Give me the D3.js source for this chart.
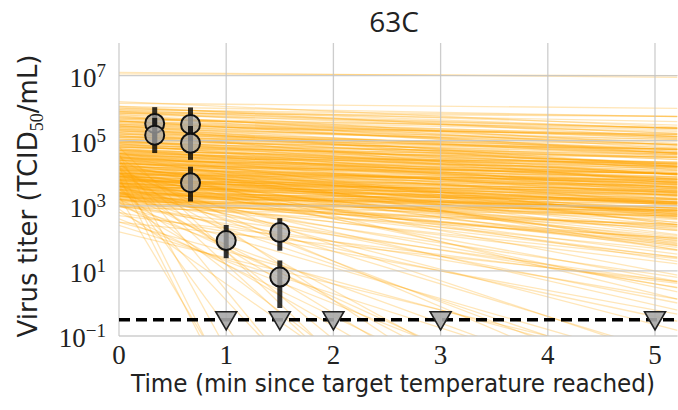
<!DOCTYPE html>
<html>
<head>
<meta charset="utf-8">
<script src="https://cdn.jsdelivr.net/npm/d3@7"></script>
<style>
  body { margin: 0; background: #fff; }
  svg { display: block; }
</style>
</head>
<body>
<svg id="chart" width="678" height="410"></svg>
<script>
// ---------------- data ----------------
const title = "63C";
const xTicks = [0, 1, 2, 3, 4, 5];
const yTickExps = [-1, 1, 3, 5, 7];
const detectionLimit = 0.316;

// measured titers (log10 TCID50/mL) with error bar ends
const obsTime  = [0.333, 0.333, 0.667, 0.667, 0.667, 1.0, 1.5, 1.5];
const obsLog   = [5.53, 5.17, 5.50, 4.92, 3.71, 1.93, 2.18, 0.81];
const obsLow   = [4.90, 4.62, 5.00, 4.41, 3.13, 1.39, 1.62, -0.14];
const obsHigh  = [6.03, 5.70, 6.02, 5.45, 4.20, 2.41, 2.62, 1.32];

// samples below detection limit
const ndTime = [1, 1.5, 2, 3, 5];

// posterior decay lines: log10 titer at t=0 and decay rate (log10 per min)
const sampleIntercept = [
  5.9,5.7,5.6,5.5,5.45,5.3,5.2,5.15,5.1,5.05,
  5.0,4.95,4.9,4.85,4.8,4.8,4.75,4.7,4.7,4.65,
  4.6,4.6,4.55,4.5,4.5,4.45,4.4,4.4,4.35,4.3,
  4.3,4.25,4.2,4.2,4.15,4.1,4.1,4.05,4.0,4.0,
  3.95,3.9,3.9,3.85,3.8,3.8,3.75,3.7,3.7,3.65,
  3.6,3.6,3.55,3.5,3.5,3.45,3.4,3.4,3.35,3.3,
  3.3,3.25,3.2,3.2,3.15,3.1,3.05,3.0,3.0,2.95,
  5.8,5.4,5.25,4.9,4.6,4.35,4.15,3.95,3.7,3.5,
  5.6,5.35,5.0,4.75,4.5,4.25,4.05,3.85,3.6,3.3,
  4.95,4.65,4.45,4.2,3.95,3.75,3.55,3.35,4.85,4.55,
  4.3,4.0,3.8,3.45,3.25,4.7,4.4,4.1,3.9,3.65,
  5.55,5.45,5.35,5.25,5.2,5.1,5.05,4.98,4.92,4.88,
  4.82,4.78,4.72,4.68,4.62,4.58,4.52,4.48,4.42,4.38,
  4.32,4.28,4.22,4.18,4.12,4.08,4.02,3.98,3.92,3.88,
  3.82,3.78,3.72,3.68,3.62,3.58,3.52,3.48,3.42,3.38,
  3.32,3.28,3.22,3.18,3.12,4.9,4.6,4.3,4.0,3.7,
  5.0,4.85,4.7,4.55,4.4,4.25,4.1,3.95,3.8,3.65,
  4.75,4.5,4.35,4.15,3.9,3.75,3.55,3.4,4.45,4.05,
  5.15,4.95,4.65,4.45,4.2,3.85,3.6,3.35,3.15,3.05,
  5.7,5.5,5.3,5.4,5.6,4.8,4.6,4.3,4.0,3.7,
  6.0,5.95,5.9,5.85,5.8,5.75,5.7,5.65,5.6,5.55,
  5.5,5.45,5.4,5.35,5.3,5.25,5.2,5.15,5.1,5.05,
  6.05,5.9,5.75,5.6,5.45,5.3,5.15,5.0,5.85,5.65,
  4.4,4.1,3.8,3.5,4.6,4.2,3.9,3.6,3.3,4.0,
  3.7,3.4,4.3,3.2,4.5,3.95,3.65,3.35,4.15,3.85,
  7.05,7.1,6.15,6.05,6.0,5.95,6.2,5.85,
  4.2,3.9,3.6,3.3,4.5,3.8,3.5,3.2,4.0,3.7,3.0,3.4,4.3,3.0,2.7,3.6,2.5,4.1,3.1,2.8,3.9,3.3,
  4.5,4.2,3.8,4.0,3.5,3.2,4.6,3.9,3.0,4.3,3.6,2.8,4.1,3.4,2.5,3.7,4.4,3.1,2.6,3.3,4.0,3.8,2.2,3.5,4.8,2.9,4.2,3.6,3.0,2.4
];
const sampleRate = [
  0.10,0.12,0.08,0.15,0.05,0.14,0.10,0.18,0.07,0.12,
  0.16,0.09,0.13,0.20,0.06,0.11,0.15,0.08,0.22,0.12,
  0.10,0.17,0.05,0.13,0.19,0.09,0.14,0.25,0.07,0.11,
  0.16,0.20,0.06,0.12,0.09,0.15,0.21,0.10,0.13,0.18,
  0.07,0.11,0.16,0.24,0.09,0.13,0.05,0.12,0.19,0.08,
  0.14,0.10,0.17,0.06,0.12,0.21,0.09,0.15,0.11,0.07,
  0.18,0.13,0.10,0.23,0.08,0.15,0.12,0.06,0.19,0.10,
  0.20,0.25,0.30,0.28,0.30,0.32,0.27,0.30,0.28,0.33,
  0.18,0.21,0.24,0.26,0.23,0.28,0.25,0.20,0.26,0.27,
  0.04,0.03,0.02,0.04,0.03,0.02,0.04,0.03,0.10,0.14,
  0.09,0.08,0.17,0.14,0.05,0.18,0.20,0.19,0.22,0.16,
  0.08,0.12,0.06,0.10,0.15,0.04,0.09,0.13,0.07,0.11,
  0.16,0.05,0.10,0.14,0.08,0.12,0.06,0.16,0.10,0.04,
  0.13,0.08,0.11,0.15,0.06,0.09,0.12,0.05,0.14,0.08,
  0.10,0.13,0.06,0.09,0.11,0.04,0.08,0.12,0.06,0.10,
  0.05,0.08,0.03,0.07,0.05,0.18,0.20,0.17,0.19,0.15,
  0.07,0.05,0.11,0.09,0.07,0.05,0.08,0.10,0.06,0.04,
  0.12,0.10,0.12,0.11,0.07,0.09,0.07,0.05,0.11,0.06,
  0.13,0.15,0.16,0.14,0.13,0.12,0.09,0.08,0.09,0.04,
  0.07,0.09,0.11,0.04,0.14,0.09,0.06,0.06,0.04,0.05,
  0.10,0.14,0.06,0.12,0.08,0.16,0.11,0.05,0.10,0.13,
  0.07,0.18,0.10,0.14,0.06,0.12,0.08,0.10,0.16,0.06,
  0.18,0.20,0.22,0.19,0.24,0.21,0.23,0.20,0.09,0.07,
  0.38,0.35,0.33,0.30,0.42,0.40,0.37,0.36,0.32,0.45,
  0.42,0.38,0.48,0.35,0.36,0.28,0.31,0.29,0.32,0.40,
  0.01,0.03,0.03,0.06,0.12,0.04,0.15,0.02,
  0.45,0.50,0.42,0.40,0.55,0.60,0.58,0.52,0.70,0.75,0.45,0.65,0.80,0.55,0.40,0.85,0.35,0.62,0.70,0.60,0.38,0.48,
  2.2,3.0,4.5,1.8,2.5,1.5,6.0,8.0,1.2,2.7,3.5,1.6,1.4,1.1,0.9,2.0,4.0,1.9,1.3,5.5,1.1,1.25,0.8,1.7,3.2,2.3,10,1.0,0.95,1.05
];

// ---------------- layout ----------------
const svg = d3.select("#chart");
const xMax = 5.21;
const x = d3.scaleLinear().domain([0, xMax]).range([119, 119 + xMax * 107.2]);
const y = d3.scaleLog().domain([1e-1, 1e8]).range([336, 43]);
const [px0, px1] = x.range();
const [py1, py0] = y.range();

svg.append("defs").append("clipPath").attr("id", "plotclip")
  .append("rect").attr("x", px0).attr("y", py0).attr("width", px1 - px0).attr("height", py1 - py0);

// posterior lines
const lineGen = d3.line().x(d => x(d[0])).y(d => y(d[1]));
const plot = svg.append("g").attr("clip-path", "url(#plotclip)");
plot.selectAll("path.sample").data(sampleIntercept.map((a, i) => [a, sampleRate[i]])).join("path")
  .attr("d", d => lineGen([[0, Math.pow(10, d[0])], [xMax, Math.pow(10, Math.max(d[0] - d[1] * xMax, -30))]]))
  .attr("fill", "none")
  .attr("stroke", "#ffa500")
  .attr("stroke-opacity", 0.28)
  .attr("stroke-width", 1.3);

// grid (drawn over the sample lines)
const grid = svg.append("g");
grid.selectAll("line.v").data(xTicks).join("line")
  .attr("x1", d => x(d)).attr("x2", d => x(d))
  .attr("y1", py0).attr("y2", py1)
  .attr("stroke", "#c4c4c4").attr("stroke-opacity", 0.85).attr("stroke-width", 1.3);
grid.selectAll("line.h").data(yTickExps).join("line")
  .attr("x1", px0).attr("x2", px1)
  .attr("y1", d => y(Math.pow(10, d))).attr("y2", d => y(Math.pow(10, d)))
  .attr("stroke", "#c4c4c4").attr("stroke-opacity", 0.85).attr("stroke-width", 1.3);

// detection limit
svg.append("line")
  .attr("x1", px0).attr("x2", px1)
  .attr("y1", y(detectionLimit)).attr("y2", y(detectionLimit))
  .attr("stroke", "#000").attr("stroke-width", 3.5)
  .attr("stroke-dasharray", "11,6");

// observations
const obs = obsTime.map((t, i) => ({ t, v: obsLog[i], lo: obsLow[i], hi: obsHigh[i] }));
const og = svg.append("g");
obs.forEach(d => {
  og.append("line")
    .attr("x1", x(d.t)).attr("x2", x(d.t))
    .attr("y1", y(Math.pow(10, d.lo))).attr("y2", y(Math.pow(10, d.hi)))
    .attr("stroke", "#000").attr("stroke-opacity", 0.8).attr("stroke-width", 5);
  og.append("circle")
    .attr("cx", x(d.t)).attr("cy", y(Math.pow(10, d.v))).attr("r", 9.5)
    .attr("fill", "#a8a8a8").attr("fill-opacity", 0.75)
    .attr("stroke", "#111").attr("stroke-width", 2);
});

// non-detects
svg.append("g").selectAll("path.nd").data(ndTime).join("path")
  .attr("d", d3.symbol().type(d3.symbolTriangle).size(190))
  .attr("transform", d => `translate(${x(d)},${y(detectionLimit) - 2}) rotate(180)`)
  .attr("fill", "#a8a8a8").attr("fill-opacity", 0.9)
  .attr("stroke", "#222").attr("stroke-width", 1.6);

// x tick labels
svg.append("g").selectAll("text").data(xTicks).join("text")
  .attr("x", d => x(d)).attr("y", 364)
  .attr("text-anchor", "middle")
  .attr("font-family", "Liberation Serif, serif").attr("font-size", 27)
  .attr("fill", "#222")
  .text(d => d);

// y tick labels
const yt = svg.append("g").selectAll("text").data(yTickExps).join("text")
  .attr("x", 106).attr("y", d => y(Math.pow(10, d)) + 11)
  .attr("text-anchor", "end")
  .attr("font-family", "Liberation Serif, serif").attr("font-size", 27)
  .attr("fill", "#222");
yt.append("tspan").text("10");
yt.append("tspan").attr("dy", -10).attr("font-size", 19).text(d => d < 0 ? "\u2212" + (-d) : d);

// axis labels
svg.append("text")
  .attr("x", 393).attr("y", 392)
  .attr("text-anchor", "middle")
  .attr("font-family", "DejaVu Sans, sans-serif").attr("font-size", 24)
  .attr("fill", "#222")
  .attr("textLength", 524).attr("lengthAdjust", "spacingAndGlyphs")
  .text("Time (min since target temperature reached)");

const yl = svg.append("text")
  .attr("transform", "translate(37,196) rotate(-90)")
  .attr("text-anchor", "middle")
  .attr("font-family", "DejaVu Sans, sans-serif").attr("font-size", 26)
  .attr("fill", "#222");
yl.append("tspan").text("Virus titer (TCID");
yl.append("tspan").attr("font-family", "Liberation Serif, serif").attr("font-size", 18).attr("dy", 6).text("50");
yl.append("tspan").attr("dy", -6).text("/mL)");

// title
svg.append("text")
  .attr("x", 394).attr("y", 32)
  .attr("text-anchor", "middle")
  .attr("font-family", "Open Sans, sans-serif").attr("font-size", 28)
  .attr("fill", "#222")
  .text(title);
</script>
</body>
</html>
